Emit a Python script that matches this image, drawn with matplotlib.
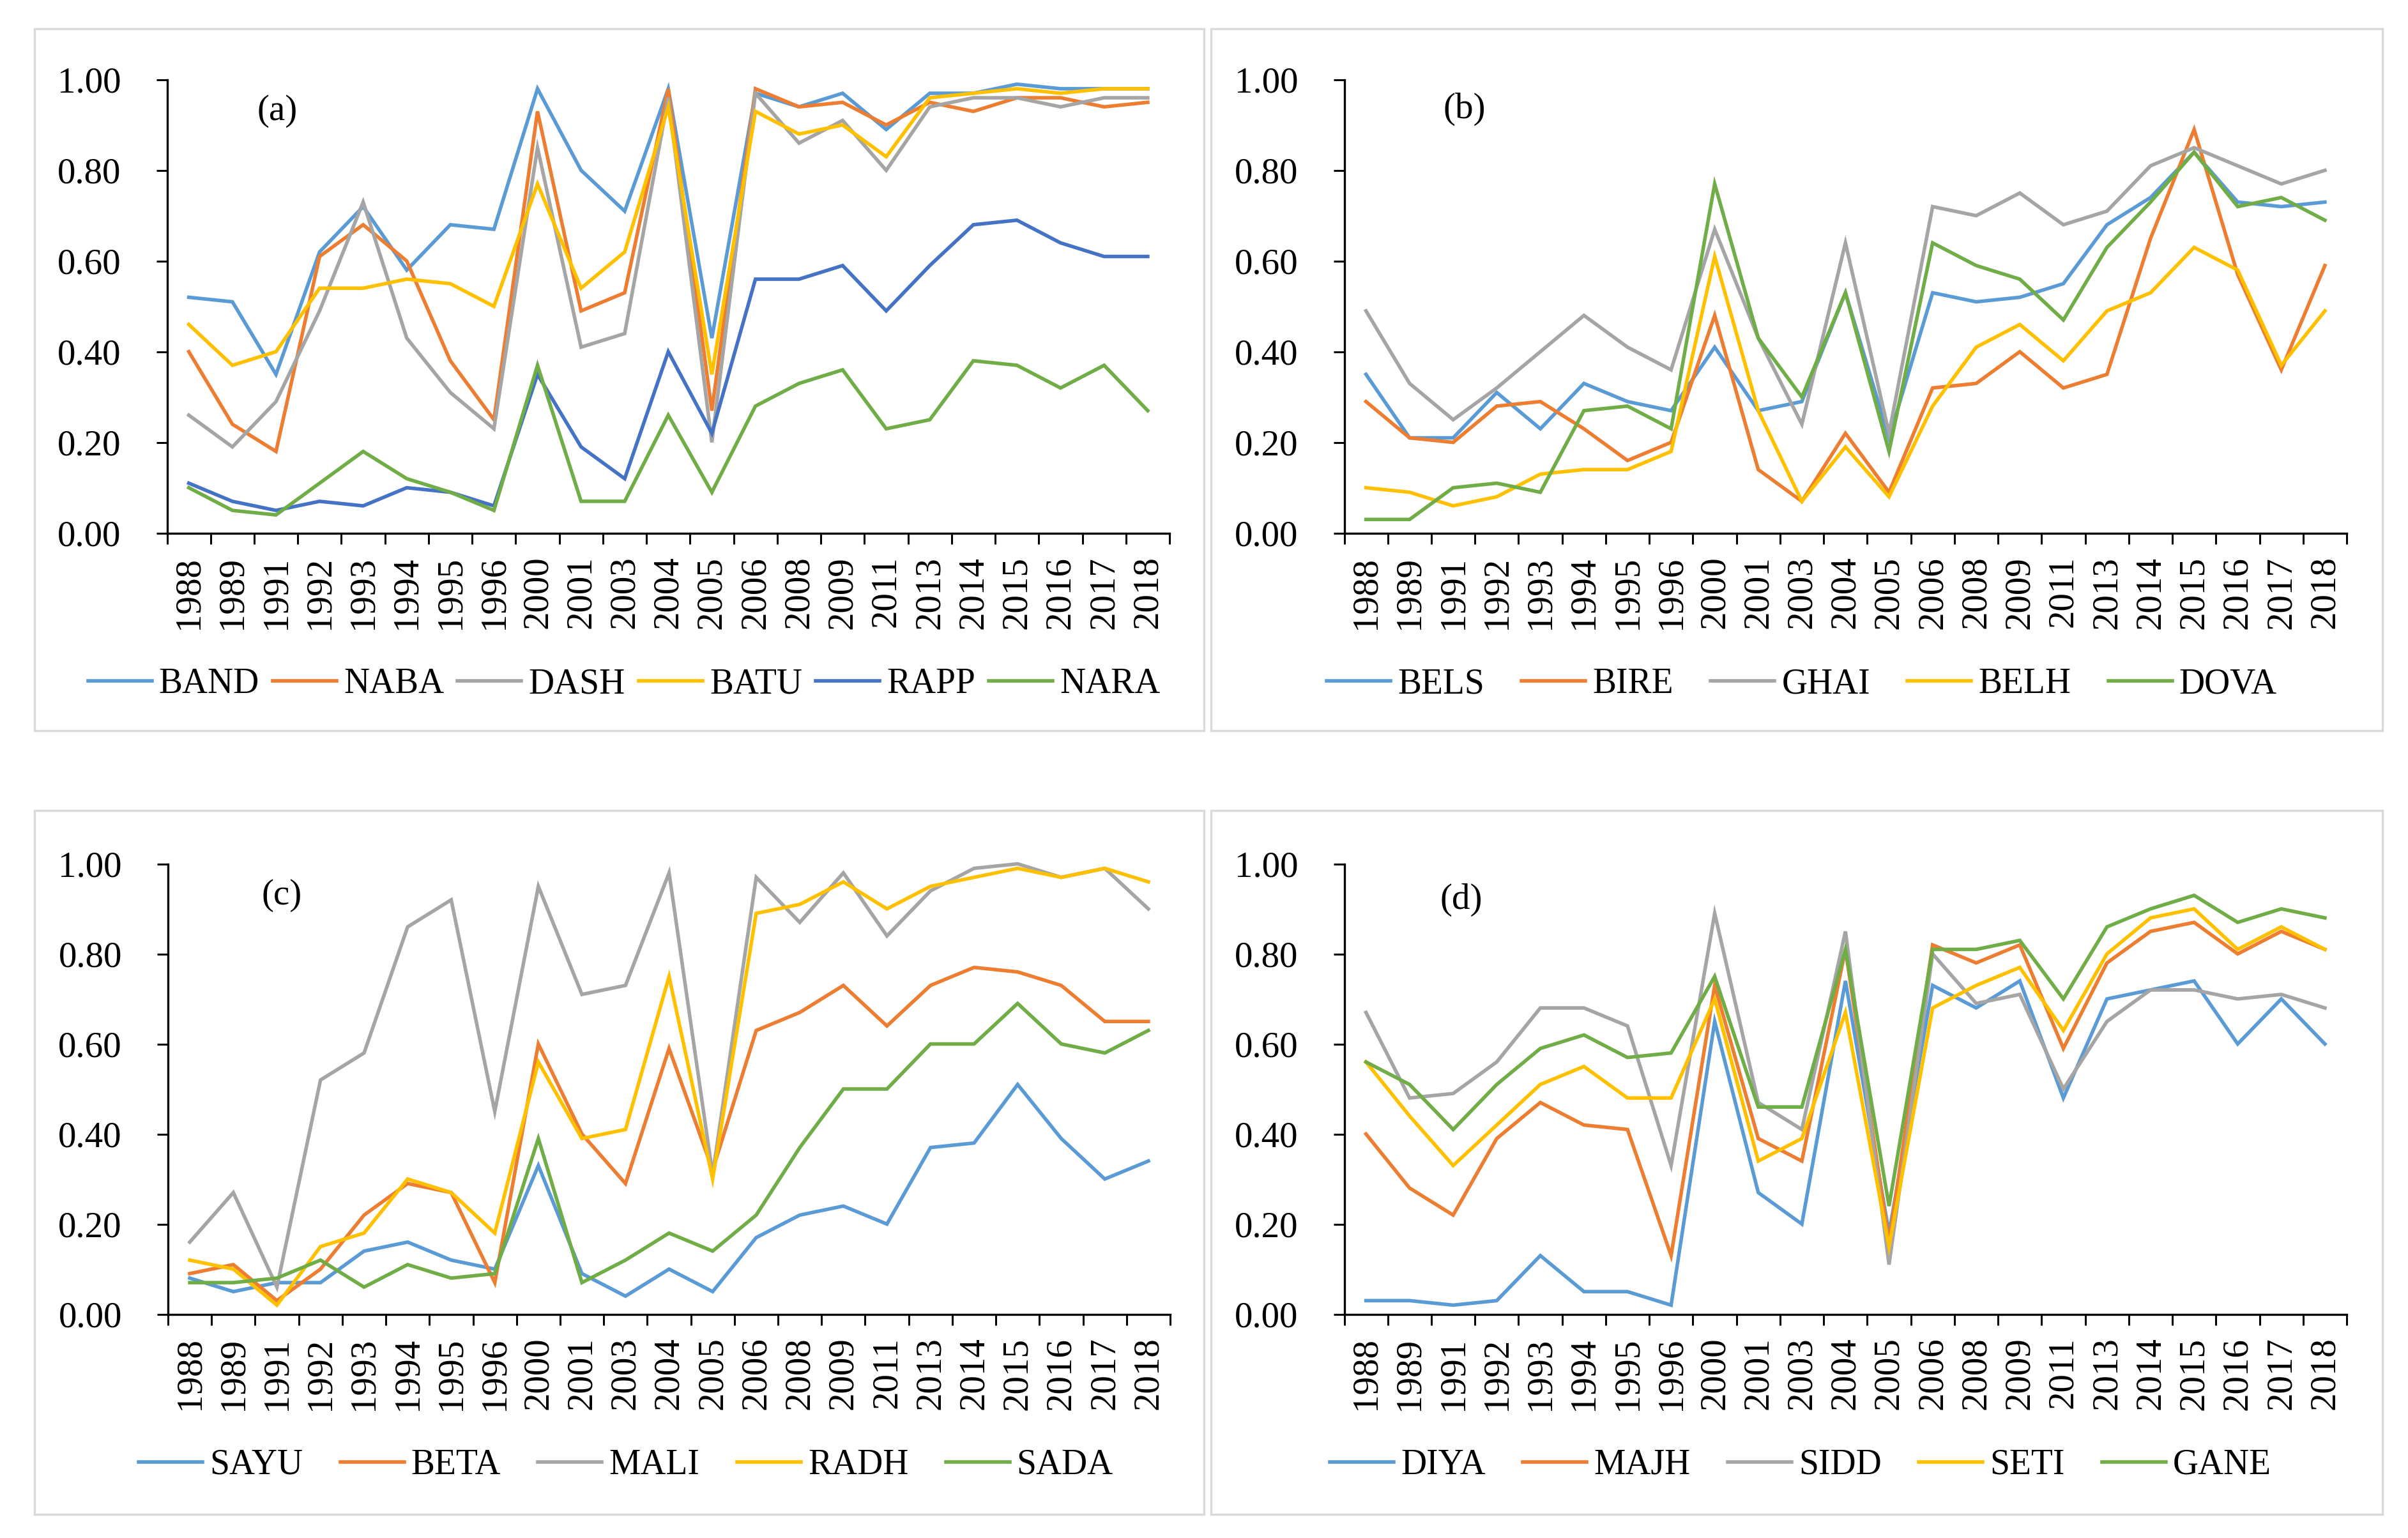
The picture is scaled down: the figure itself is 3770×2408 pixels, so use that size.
import numpy as np
import matplotlib
matplotlib.use("Agg")
import matplotlib.pyplot as plt
from matplotlib.patches import Rectangle

plt.rcParams['font.family'] = ['Liberation Serif', 'DejaVu Serif']

years = ["1988", "1989", "1991", "1992", "1993", "1994", "1995", "1996", "2000", "2001",
         "2003", "2004", "2005", "2006", "2008", "2009", "2011", "2013", "2014", "2015",
         "2016", "2017", "2018"]

# Panel (a)
BAND = [0.52, 0.51, 0.35, 0.62, 0.72, 0.58, 0.68, 0.67, 0.98, 0.80, 0.71, 0.98, 0.43, 0.97, 0.94, 0.97, 0.89, 0.97, 0.97, 0.99, 0.98, 0.98, 0.98]
NABA = [0.40, 0.24, 0.18, 0.61, 0.68, 0.60, 0.38, 0.25, 0.93, 0.49, 0.53, 0.98, 0.27, 0.98, 0.94, 0.95, 0.90, 0.95, 0.93, 0.96, 0.96, 0.94, 0.95]
DASH = [0.26, 0.19, 0.29, 0.49, 0.73, 0.43, 0.31, 0.23, 0.85, 0.41, 0.44, 0.96, 0.20, 0.97, 0.86, 0.91, 0.80, 0.94, 0.96, 0.96, 0.94, 0.96, 0.96]
BATU = [0.46, 0.37, 0.40, 0.54, 0.54, 0.56, 0.55, 0.50, 0.77, 0.54, 0.62, 0.94, 0.35, 0.93, 0.88, 0.90, 0.83, 0.96, 0.97, 0.98, 0.97, 0.98, 0.98]
RAPP = [0.11, 0.07, 0.05, 0.07, 0.06, 0.10, 0.09, 0.06, 0.35, 0.19, 0.12, 0.40, 0.22, 0.56, 0.56, 0.59, 0.49, 0.59, 0.68, 0.69, 0.64, 0.61, 0.61]
NARA = [0.10, 0.05, 0.04, 0.11, 0.18, 0.12, 0.09, 0.05, 0.37, 0.07, 0.07, 0.26, 0.09, 0.28, 0.33, 0.36, 0.23, 0.25, 0.38, 0.37, 0.32, 0.37, 0.27]

# Panel (b)
BELS = [0.35, 0.21, 0.21, 0.31, 0.23, 0.33, 0.29, 0.27, 0.41, 0.27, 0.29, 0.53, 0.21, 0.53, 0.51, 0.52, 0.55, 0.68, 0.74, 0.84, 0.73, 0.72, 0.73]
BIRE = [0.29, 0.21, 0.20, 0.28, 0.29, 0.23, 0.16, 0.20, 0.48, 0.14, 0.07, 0.22, 0.09, 0.32, 0.33, 0.40, 0.32, 0.35, 0.65, 0.89, 0.57, 0.36, 0.59]
GHAI = [0.49, 0.33, 0.25, 0.32, 0.40, 0.48, 0.41, 0.36, 0.67, 0.43, 0.24, 0.64, 0.22, 0.72, 0.70, 0.75, 0.68, 0.71, 0.81, 0.85, 0.81, 0.77, 0.80]
BELH = [0.10, 0.09, 0.06, 0.08, 0.13, 0.14, 0.14, 0.18, 0.61, 0.27, 0.07, 0.19, 0.08, 0.28, 0.41, 0.46, 0.38, 0.49, 0.53, 0.63, 0.58, 0.37, 0.49]
DOVA = [0.03, 0.03, 0.10, 0.11, 0.09, 0.27, 0.28, 0.23, 0.77, 0.43, 0.30, 0.53, 0.18, 0.64, 0.59, 0.56, 0.47, 0.63, 0.73, 0.84, 0.72, 0.74, 0.69]

# Panel (c)
SAYU = [0.08, 0.05, 0.07, 0.07, 0.14, 0.16, 0.12, 0.10, 0.33, 0.09, 0.04, 0.10, 0.05, 0.17, 0.22, 0.24, 0.20, 0.37, 0.38, 0.51, 0.39, 0.30, 0.34]
BETA = [0.09, 0.11, 0.03, 0.10, 0.22, 0.29, 0.27, 0.07, 0.60, 0.40, 0.29, 0.59, 0.32, 0.63, 0.67, 0.73, 0.64, 0.73, 0.77, 0.76, 0.73, 0.65, 0.65]
MALI = [0.16, 0.27, 0.06, 0.52, 0.58, 0.86, 0.92, 0.45, 0.95, 0.71, 0.73, 0.98, 0.31, 0.97, 0.87, 0.98, 0.84, 0.94, 0.99, 1.00, 0.97, 0.99, 0.90]
RADH = [0.12, 0.10, 0.02, 0.15, 0.18, 0.30, 0.27, 0.18, 0.56, 0.39, 0.41, 0.75, 0.30, 0.89, 0.91, 0.96, 0.90, 0.95, 0.97, 0.99, 0.97, 0.99, 0.96]
SADA = [0.07, 0.07, 0.08, 0.12, 0.06, 0.11, 0.08, 0.09, 0.39, 0.07, 0.12, 0.18, 0.14, 0.22, 0.37, 0.50, 0.50, 0.60, 0.60, 0.69, 0.60, 0.58, 0.63]

# Panel (d)
DIYA = [0.03, 0.03, 0.02, 0.03, 0.13, 0.05, 0.05, 0.02, 0.65, 0.27, 0.20, 0.74, 0.18, 0.73, 0.68, 0.74, 0.48, 0.70, 0.72, 0.74, 0.60, 0.70, 0.60]
MAJH = [0.40, 0.28, 0.22, 0.39, 0.47, 0.42, 0.41, 0.13, 0.73, 0.39, 0.34, 0.81, 0.16, 0.82, 0.78, 0.82, 0.59, 0.78, 0.85, 0.87, 0.80, 0.85, 0.81]
SIDD = [0.67, 0.48, 0.49, 0.56, 0.68, 0.68, 0.64, 0.33, 0.89, 0.47, 0.41, 0.85, 0.11, 0.80, 0.69, 0.71, 0.50, 0.65, 0.72, 0.72, 0.70, 0.71, 0.68]
SETI = [0.56, 0.44, 0.33, 0.42, 0.51, 0.55, 0.48, 0.48, 0.70, 0.34, 0.39, 0.67, 0.15, 0.68, 0.73, 0.77, 0.63, 0.80, 0.88, 0.90, 0.81, 0.86, 0.81]
GANE = [0.56, 0.51, 0.41, 0.51, 0.59, 0.62, 0.57, 0.58, 0.75, 0.46, 0.46, 0.81, 0.24, 0.81, 0.81, 0.83, 0.70, 0.86, 0.90, 0.93, 0.87, 0.90, 0.88]

C_BLUE = "#5B9BD5"
C_ORANGE = "#ED7D31"
C_GRAY = "#A5A5A5"
C_GOLD = "#FFC000"
C_DBLUE = "#4472C4"
C_GREEN = "#70AD47"

panels = [
    ("(a)", [("BAND", BAND, C_BLUE), ("NABA", NABA, C_ORANGE), ("DASH", DASH, C_GRAY),
             ("BATU", BATU, C_GOLD), ("RAPP", RAPP, C_DBLUE), ("NARA", NARA, C_GREEN)]),
    ("(b)", [("BELS", BELS, C_BLUE), ("BIRE", BIRE, C_ORANGE), ("GHAI", GHAI, C_GRAY),
             ("BELH", BELH, C_GOLD), ("DOVA", DOVA, C_GREEN)]),
    ("(c)", [("SAYU", SAYU, C_BLUE), ("BETA", BETA, C_ORANGE), ("MALI", MALI, C_GRAY),
             ("RADH", RADH, C_GOLD), ("SADA", SADA, C_GREEN)]),
    ("(d)", [("DIYA", DIYA, C_BLUE), ("MAJH", MAJH, C_ORANGE), ("SIDD", SIDD, C_GRAY),
             ("SETI", SETI, C_GOLD), ("GANE", GANE, C_GREEN)]),
]

W, H = 3770, 2408
DPI = 200
fig = plt.figure(figsize=(W / DPI, H / DPI), dpi=DPI)

def fx(px):
    return px / W

def fy(py):
    return 1 - py / H

# axes rectangles in pixels: left, right, top, bottom
ax_px = [(261.5, 1831, 124.7, 834.6), (2104.5, 3674, 124.7, 834.6),
         (263, 1832, 1352.5, 2057.5), (2104.5, 3674, 1352.5, 2057.5)]
border_px = [(54, 1885, 45, 1144), (1896, 3730, 45, 1144),
             (54, 1885, 1269, 2371), (1896, 3730, 1269, 2371)]
legend_pos = [(977, 1071, 0.38), (2821, 1071, 1.05), (980, 2294, 1.05), (2819, 2294, 1.05)]
label_pos = [(2.03, 0.93), (2.26, 0.935), (2.11, 0.93), (2.19, 0.92)]

for (l, r, t_, b_) in border_px:
    fig.patches.append(Rectangle((fx(l), fy(b_)), fx(r) - fx(l), fy(t_) - fy(b_),
                                 transform=fig.transFigure, fill=False,
                                 edgecolor="#D9D9D9", linewidth=1.2, zorder=0))

x = np.arange(len(years))
for i, (lab, series) in enumerate(panels):
    l, r, t, b = ax_px[i]
    ax = fig.add_axes([fx(l), fy(b), fx(r) - fx(l), fy(t) - fy(b)])
    handles = []
    for name, vals, col in series:
        h, = ax.plot(x, vals, color=col, linewidth=2.0, label=name,
                     solid_joinstyle="miter", clip_on=False)
        handles.append(h)
    ax.set_xlim(-0.5, len(years) - 0.5)
    ax.set_ylim(0, 1)
    for s in ["top", "right"]:
        ax.spines[s].set_visible(False)
    for s in ["left", "bottom"]:
        ax.spines[s].set_linewidth(1.2)
        ax.spines[s].set_color("black")
    yt = np.arange(0, 1.01, 0.2)
    ax.set_yticks(yt)
    ax.set_yticklabels([f"{v:.2f}" for v in yt], fontsize=20.5)
    ax.tick_params(axis="y", direction="out", length=6, width=1.1, pad=20)
    ax.set_xticks(np.arange(-0.5, len(years), 1.0))
    ax.set_xticklabels([])
    ax.tick_params(axis="x", which="major", direction="out", length=6, width=1.1)
    ax.set_xticks(x, minor=True)
    ax.set_xticklabels(years, minor=True, rotation=90, fontsize=20.5, va="top", ha="center")
    ax.tick_params(axis="x", which="minor", length=0, pad=13)
    ax.text(label_pos[i][0], label_pos[i][1], lab, fontsize=20.5, ha="center", va="center")

    cx, cy, cs = legend_pos[i]
    fig.legend(handles=handles, loc="center", bbox_to_anchor=(fx(cx), fy(cy)),
               ncol=len(handles), frameon=False, fontsize=20, handlelength=1.8,
               handletextpad=0.2, columnspacing=cs, borderaxespad=0, borderpad=0)

fig.savefig("out.png", dpi=DPI, facecolor="white")
